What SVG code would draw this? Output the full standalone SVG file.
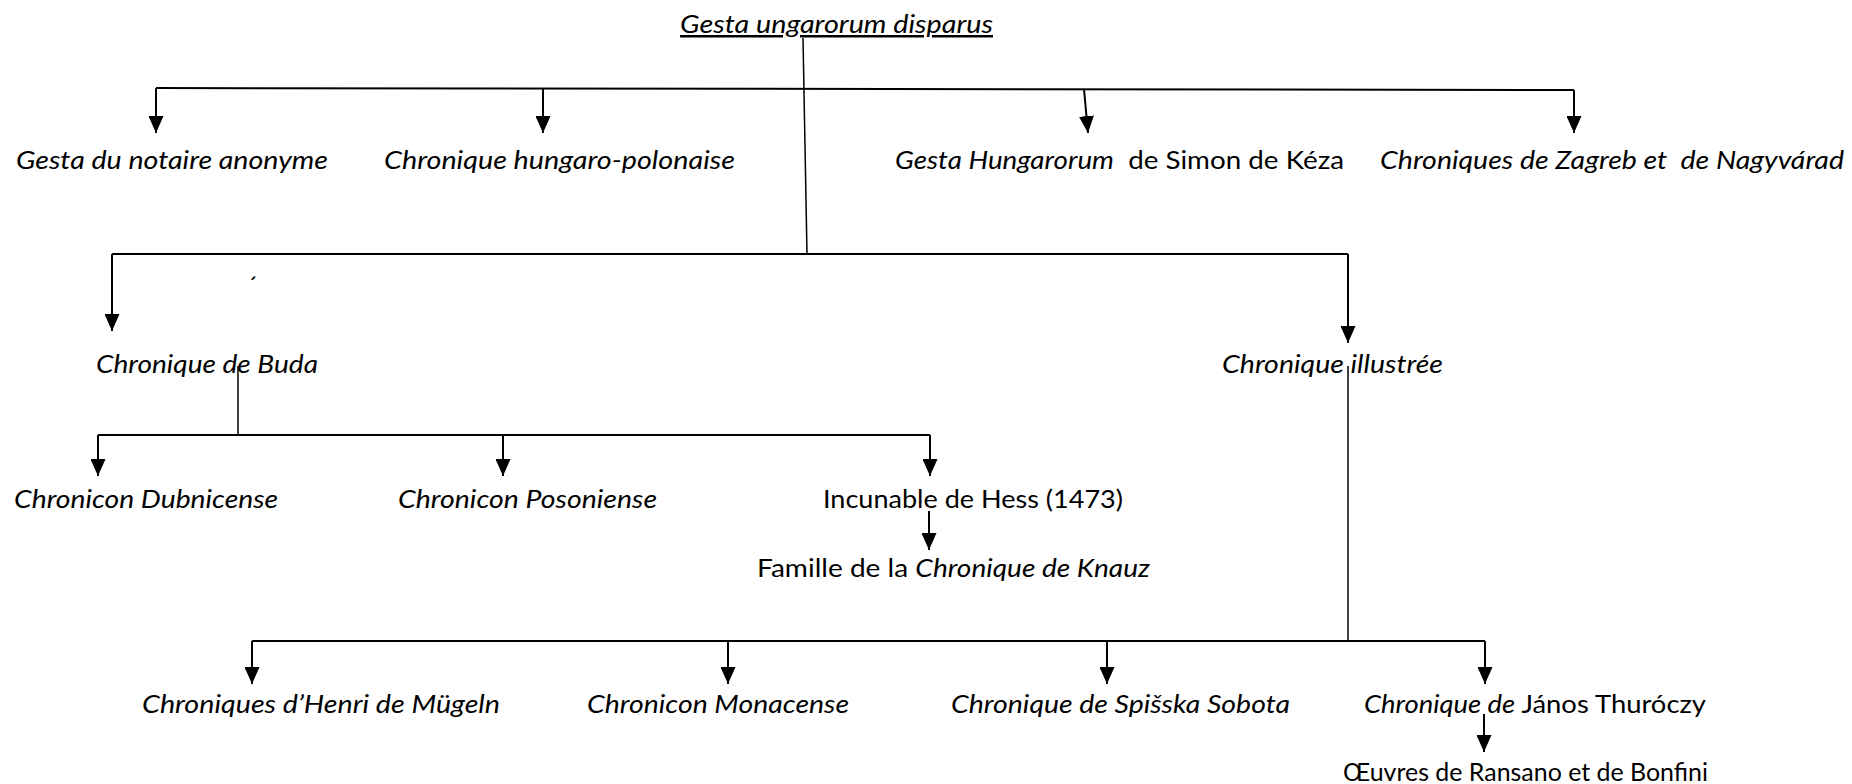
<svg xmlns="http://www.w3.org/2000/svg" width="1852" height="784" viewBox="0 0 1852 784">
<defs>
<style>
text{font-family:Lato,"Open Sans","Liberation Sans",sans-serif;font-size:25px;fill:#000}
.i{font-style:italic}
.c{stroke:#000;stroke-width:2;fill:none}
.t{stroke:#000;stroke-width:1.5;fill:none}
.a{marker-end:url(#ah)}
</style>
<marker id="ah" viewBox="0 0 17 15" refX="17" refY="7.5" markerWidth="17" markerHeight="15" markerUnits="userSpaceOnUse" orient="auto">
<path d="M0,0 L17,7.5 L0,15 z" fill="#000"/>
</marker>
</defs>
<rect width="1852" height="784" fill="#fff"/>
<g id="connectors">
<line class="t" x1="803" y1="38" x2="807" y2="254"/>
<line class="c" x1="156" y1="88" x2="1574" y2="90"/>
<line class="c a" x1="156" y1="88" x2="156" y2="133"/>
<line class="c a" x1="543" y1="89" x2="543" y2="133"/>
<line class="c a" x1="1084" y1="89" x2="1088" y2="133"/>
<line class="c a" x1="1574" y1="90" x2="1574" y2="133"/>
<line class="c" x1="112" y1="254" x2="1348" y2="254"/>
<line class="c a" x1="112" y1="254" x2="112" y2="331"/>
<line class="c a" x1="1348" y1="254" x2="1348" y2="343"/>
<line class="t" x1="238" y1="366" x2="238" y2="435"/>
<line class="c" x1="98" y1="435" x2="930" y2="435"/>
<line class="c a" x1="98" y1="435" x2="98" y2="476"/>
<line class="c a" x1="503" y1="435" x2="503" y2="476"/>
<line class="c a" x1="930" y1="435" x2="930" y2="476"/>
<line class="c a" x1="929" y1="511" x2="929" y2="550"/>
<line class="t" x1="1348" y1="366" x2="1348" y2="641"/>
<line class="c" x1="252" y1="641" x2="1485" y2="641"/>
<line class="c a" x1="252" y1="641" x2="252" y2="684"/>
<line class="c a" x1="728" y1="641" x2="728" y2="684"/>
<line class="c a" x1="1107" y1="641" x2="1107" y2="684"/>
<line class="c a" x1="1485" y1="641" x2="1485" y2="684"/>
<line class="c a" x1="1484" y1="714" x2="1484" y2="752"/>
</g>
<g id="n-root"><text class="i" x="680" y="33" textLength="313" lengthAdjust="spacingAndGlyphs" text-decoration="underline">Gesta ungarorum disparus</text></g>
<g id="n-notaire"><text class="i" x="16" y="169" textLength="312" lengthAdjust="spacingAndGlyphs">Gesta du notaire anonyme</text></g>
<g id="n-hungpol"><text class="i" x="384" y="169" textLength="351" lengthAdjust="spacingAndGlyphs">Chronique hungaro-polonaise</text></g>
<g id="n-keza"><text x="895" y="169" textLength="449" lengthAdjust="spacingAndGlyphs" xml:space="preserve"><tspan class="i">Gesta Hungarorum</tspan>  de Simon de Kéza</text></g>
<g id="n-zagreb"><text class="i" x="1380" y="169" textLength="464" lengthAdjust="spacingAndGlyphs" xml:space="preserve">Chroniques de Zagreb et  de Nagyvárad</text></g>
<g id="n-mark"><text class="i" x="246" y="295" font-size="18">´</text></g>
<g id="n-buda"><text class="i" x="96" y="373" textLength="222" lengthAdjust="spacingAndGlyphs">Chronique de Buda</text></g>
<g id="n-illustree"><text class="i" x="1222" y="373" textLength="221" lengthAdjust="spacingAndGlyphs">Chronique illustrée</text></g>
<g id="n-dubnic"><text class="i" x="14" y="508" textLength="264" lengthAdjust="spacingAndGlyphs">Chronicon Dubnicense</text></g>
<g id="n-poson"><text class="i" x="398" y="508" textLength="259" lengthAdjust="spacingAndGlyphs">Chronicon Posoniense</text></g>
<g id="n-hess"><text x="823" y="508" textLength="300" lengthAdjust="spacingAndGlyphs">Incunable de Hess (1473)</text></g>
<g id="n-knauz"><text x="757" y="577" textLength="393" lengthAdjust="spacingAndGlyphs">Famille de la <tspan class="i">Chronique de Knauz</tspan></text></g>
<g id="n-mugeln"><text class="i" x="142" y="713" textLength="358" lengthAdjust="spacingAndGlyphs">Chroniques d’Henri de Mügeln</text></g>
<g id="n-monac"><text class="i" x="587" y="713" textLength="262" lengthAdjust="spacingAndGlyphs">Chronicon Monacense</text></g>
<g id="n-spis"><text class="i" x="951" y="713" textLength="339" lengthAdjust="spacingAndGlyphs">Chronique de Spišska Sobota</text></g>
<g id="n-thur"><text x="1364" y="713" textLength="342" lengthAdjust="spacingAndGlyphs"><tspan class="i">Chronique de</tspan> János Thuróczy</text></g>
<g id="n-oeuvres"><text x="1343" y="781" textLength="365" lengthAdjust="spacingAndGlyphs">Œuvres de Ransano et de Bonfini</text></g>
</svg>
